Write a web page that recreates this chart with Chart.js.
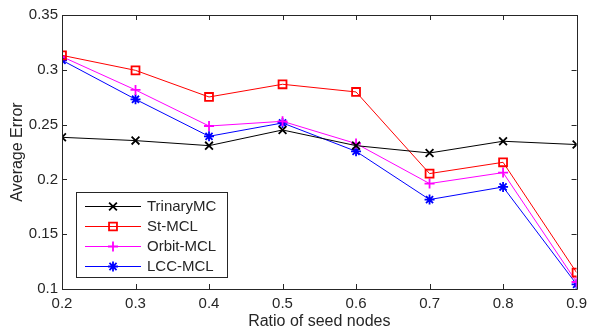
<!DOCTYPE html>
<html>
<head>
<meta charset="utf-8">
<script src="https://cdn.jsdelivr.net/npm/chart.js@4/dist/chart.umd.min.js"></script>
<style>
html,body{margin:0;padding:0;background:#fff;}
#wrap{width:593px;height:329px;position:relative;}
</style>
</head>
<body>
<div id="wrap"><canvas id="c" width="593" height="329"></canvas></div>
<script>
const ratios = [0.2, 0.3, 0.4, 0.5, 0.6, 0.7, 0.8, 0.9];
const trinaryMC = [0.2384, 0.2354, 0.2308, 0.2451, 0.2308, 0.2241, 0.2348, 0.2318];
const stMCL     = [0.3132, 0.2995, 0.2752, 0.2868, 0.2798, 0.2053, 0.2156, 0.1150];
const orbitMCL  = [0.3120, 0.2816, 0.2487, 0.2530, 0.2327, 0.1962, 0.2062, 0.1064];
const lccMCL    = [0.3087, 0.2731, 0.2393, 0.2515, 0.2256, 0.1816, 0.1931, 0.1043];
const seriesNames = ['TrinaryMC', 'St-MCL', 'Orbit-MCL', 'LCC-MCL'];
const xTicks = [0.2, 0.3, 0.4, 0.5, 0.6, 0.7, 0.8, 0.9];
const yTicks = [0.1, 0.15, 0.2, 0.25, 0.3, 0.35];

const toXY = arr => arr.map((v, i) => ({x: ratios[i], y: v}));
const FONT = '"Liberation Sans", Arial, sans-serif';
const AX = '#262626';

function ds(label, data, color, style, radius) {
  return {
    label, data: toXY(data), borderColor: color, backgroundColor: color,
    borderWidth: 1, pointStyle: style, pointRadius: radius, pointHoverRadius: radius,
    pointBorderColor: color, pointBackgroundColor: 'rgba(0,0,0,0)', pointBorderWidth: 1.8,
    tension: 0, fill: false
  };
}

const boxPlugin = {
  id: 'boxTicks',
  afterDatasetsDraw(chart) {
    const {ctx, chartArea: a, scales: {x, y}} = chart;
    ctx.save();
    ctx.strokeStyle = AX; ctx.lineWidth = 1;
    ctx.beginPath();
    ctx.rect(Math.round(a.left) + 0.5, Math.round(a.top) + 0.5, Math.round(a.right - a.left), Math.round(a.bottom - a.top));
    const L = 5;
    xTicks.forEach(v => {
      const px = Math.round(x.getPixelForValue(v)) + 0.5;
      ctx.moveTo(px, a.bottom); ctx.lineTo(px, a.bottom - L);
      ctx.moveTo(px, a.top); ctx.lineTo(px, a.top + L);
    });
    yTicks.forEach(v => {
      const py = Math.round(y.getPixelForValue(v)) + 0.5;
      ctx.moveTo(a.left, py); ctx.lineTo(a.left + L, py);
      ctx.moveTo(a.right, py); ctx.lineTo(a.right - L, py);
    });
    ctx.stroke();

    // legend
    const lx = 76.5, ly = 192.5, lw = 151, lh = 85;
    ctx.fillStyle = '#fff';
    ctx.fillRect(lx, ly, lw, lh);
    ctx.strokeStyle = AX;
    ctx.strokeRect(lx, ly, lw, lh);
    ctx.font = '15px ' + FONT;
    ctx.textBaseline = 'middle';
    chart.data.datasets.forEach((d, i) => {
      const ry = 206 + i * 20;
      ctx.strokeStyle = d.borderColor; ctx.lineWidth = 1;
      ctx.beginPath(); ctx.moveTo(85, ry + 0.5); ctx.lineTo(141, ry + 0.5); ctx.stroke();
      ctx.lineWidth = d.pointBorderWidth;
      ctx.fillStyle = 'rgba(0,0,0,0)';
      Chart.helpers.drawPoint(ctx, {pointStyle: d.pointStyle, radius: d.pointRadius, borderWidth: d.pointBorderWidth, rotation: 0}, 113, ry + 0.5);
      ctx.fillStyle = AX;
      ctx.fillText(d.label, 147, ry + 1);
    });
    ctx.restore();
  }
};

new Chart(document.getElementById('c'), {
  type: 'line',
  data: {
    datasets: [
      ds(seriesNames[0], trinaryMC, '#000000', 'crossRot', 5.5),
      ds(seriesNames[1], stMCL, '#ff0000', 'rect', 5.6),
      ds(seriesNames[2], orbitMCL, '#ff00ff', 'cross', 5),
      ds(seriesNames[3], lccMCL, '#0000ff', 'star', 5)
    ]
  },
  options: {
    responsive: false, animation: false, devicePixelRatio: 1,
    layout: {padding: {top: 15, right: 15, left: 0, bottom: 0}},
    plugins: {legend: {display: false}, tooltip: {enabled: false}},
    scales: {
      x: {
        type: 'linear', min: 0.2, max: 0.9,
        afterBuildTicks: s => { s.ticks = xTicks.map(v => ({value: v})); },
        afterFit: s => { s.height = 40; },
        grid: {display: false, drawTicks: false},
        border: {display: false},
        ticks: {padding: 6, color: AX, font: {family: FONT, size: 15}, maxRotation: 0,
          callback: v => String(Number(v.toFixed(2)))},
        title: {display: true, text: 'Ratio of seed nodes', color: AX,
          font: {family: FONT, size: 16, lineHeight: 1}, padding: {top: 0, bottom: -1}}
      },
      y: {
        type: 'linear', min: 0.1, max: 0.35,
        afterBuildTicks: s => { s.ticks = yTicks.map(v => ({value: v})); },
        afterFit: s => { s.width = 62; },
        grid: {display: false, drawTicks: false},
        border: {display: false},
        ticks: {padding: 4, color: AX, font: {family: FONT, size: 15},
          callback: v => String(Number(v.toFixed(2)))},
        title: {display: true, text: 'Average Error', color: AX,
          font: {family: FONT, size: 16, lineHeight: 1.2}, padding: {top: 8, bottom: 0}}
      }
    }
  },
  plugins: [boxPlugin]
});
</script>
</body>
</html>
